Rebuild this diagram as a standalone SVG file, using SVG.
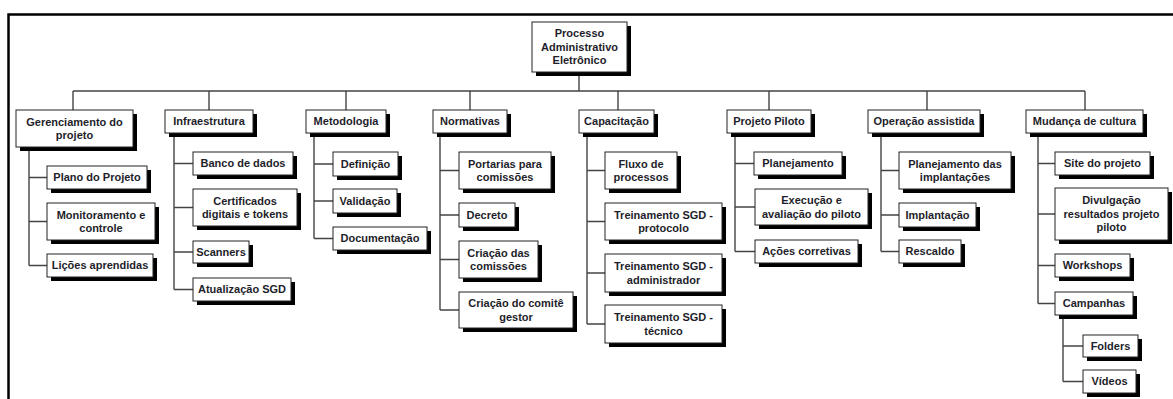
<svg xmlns="http://www.w3.org/2000/svg" width="1173" height="399" viewBox="0 0 1173 399">
<style>
.sh{fill:#000}
.bx{fill:#fff;stroke:#222;stroke-width:1}
.t{font-family:"Liberation Sans",Arial,sans-serif;font-weight:bold;font-size:11px;fill:#1e1e2a;text-anchor:middle}
.c{fill:none;stroke:#444;stroke-width:1.4}
.frame{fill:none;stroke:#000;stroke-width:2.5}
</style>
<rect width="1173" height="399" fill="#fff"/>
<path class="frame" d="M8.5,399 V14.5 H1173"/>
<g id="connectors">
<path class="c" d="M579,72 V91 M73,91 H1085 M73,91 V110 M209,91 V110 M346,91 V110 M470,91 V110 M618,91 V110 M769,91 V110 M927,91 V110 M1085,91 V110"/>
<path class="c" d="M29,147 V265.5 M29,177.5 H47 M29,221.5 H47 M29,265.5 H47"/>
<path class="c" d="M174,133 V289.5 M174,163.5 H193 M174,207.5 H193 M174,252 H193 M174,289.5 H193"/>
<path class="c" d="M314,133 V238.5 M314,164 H333 M314,201 H333 M314,238.5 H333"/>
<path class="c" d="M440,133 V310 M440,170.5 H459 M440,215 H459 M440,259.5 H459 M440,310 H459"/>
<path class="c" d="M587,133 V324 M587,170.5 H605 M587,221.5 H605 M587,273 H605 M587,324 H605"/>
<path class="c" d="M735,133 V251.5 M735,163.5 H754 M735,207 H755 M735,251.5 H755"/>
<path class="c" d="M881,133 V251.5 M881,170.5 H899 M881,215 H899 M881,251.5 H899"/>
<path class="c" d="M1038,133 V303.5 M1038,163.5 H1055 M1038,214 H1055 M1038,265.5 H1055 M1038,303.5 H1055"/>
<path class="c" d="M1063,315 V381.5 M1063,346 H1083 M1063,381.5 H1083"/>
</g>
<g id="root"><rect class="sh" x="536" y="26" width="95" height="50"/><rect class="bx" x="532" y="22" width="95" height="50"/><text class="t" x="579.5" y="37"><tspan x="579.5">Processo</tspan><tspan x="579.5" y="50.5">Administrativo</tspan><tspan x="579.5" y="64">Eletrônico</tspan></text></g>
<g id="gerenciamento"><rect class="sh" x="20" y="114" width="117" height="37"/><rect class="bx" x="16" y="110" width="117" height="37"/><text class="t" x="74.5" y="125.5"><tspan x="74.5">Gerenciamento do</tspan><tspan x="74.5" y="138.9">projeto</tspan></text></g>
<g id="infraestrutura"><rect class="sh" x="169" y="114" width="88" height="23"/><rect class="bx" x="165" y="110" width="88" height="23"/><text class="t" x="209" y="125.3">Infraestrutura</text></g>
<g id="metodologia"><rect class="sh" x="310" y="114" width="80" height="23"/><rect class="bx" x="306" y="110" width="80" height="23"/><text class="t" x="346" y="125.3">Metodologia</text></g>
<g id="normativas"><rect class="sh" x="437" y="114" width="74" height="23"/><rect class="bx" x="433" y="110" width="74" height="23"/><text class="t" x="470" y="125.3">Normativas</text></g>
<g id="capacitacao"><rect class="sh" x="583" y="114" width="75" height="23"/><rect class="bx" x="579" y="110" width="75" height="23"/><text class="t" x="616.5" y="125.3">Capacitação</text></g>
<g id="projeto-piloto"><rect class="sh" x="731" y="114" width="84" height="23"/><rect class="bx" x="727" y="110" width="84" height="23"/><text class="t" x="769" y="125.3">Projeto Piloto</text></g>
<g id="operacao-assistida"><rect class="sh" x="872" y="114" width="112" height="23"/><rect class="bx" x="868" y="110" width="112" height="23"/><text class="t" x="924" y="125.3">Operação assistida</text></g>
<g id="mudanca-cultura"><rect class="sh" x="1030" y="114" width="117" height="23"/><rect class="bx" x="1026" y="110" width="117" height="23"/><text class="t" x="1084.5" y="125.3">Mudança de cultura</text></g>
<g id="plano"><rect class="sh" x="51" y="170" width="100" height="23"/><rect class="bx" x="47" y="166" width="100" height="23"/><text class="t" x="97" y="181.3">Plano do Projeto</text></g>
<g id="monitoramento"><rect class="sh" x="51" y="207" width="108" height="37"/><rect class="bx" x="47" y="203" width="108" height="37"/><text class="t" x="101" y="218.6"><tspan x="101">Monitoramento e</tspan><tspan x="101" y="232">controle</tspan></text></g>
<g id="licoes"><rect class="sh" x="51" y="258" width="106" height="23"/><rect class="bx" x="47" y="254" width="106" height="23"/><text class="t" x="100" y="269.3">Lições aprendidas</text></g>
<g id="banco"><rect class="sh" x="197" y="156" width="100" height="23"/><rect class="bx" x="193" y="152" width="100" height="23"/><text class="t" x="243" y="167.3">Banco de dados</text></g>
<g id="certificados"><rect class="sh" x="197" y="193" width="104" height="37"/><rect class="bx" x="193" y="189" width="104" height="37"/><text class="t" x="245" y="204.6"><tspan x="245">Certificados</tspan><tspan x="245" y="218">digitais e tokens</tspan></text></g>
<g id="scanners"><rect class="sh" x="197" y="245" width="56" height="22"/><rect class="bx" x="193" y="241" width="56" height="22"/><text class="t" x="221" y="255.8">Scanners</text></g>
<g id="atualizacao"><rect class="sh" x="197" y="282" width="98" height="23"/><rect class="bx" x="193" y="278" width="98" height="23"/><text class="t" x="242" y="293.3">Atualização SGD</text></g>
<g id="definicao"><rect class="sh" x="337" y="156" width="65" height="24"/><rect class="bx" x="333" y="152" width="65" height="24"/><text class="t" x="365.5" y="167.8">Definição</text></g>
<g id="validacao"><rect class="sh" x="337" y="193" width="64" height="24"/><rect class="bx" x="333" y="189" width="64" height="24"/><text class="t" x="365" y="204.8">Validação</text></g>
<g id="documentacao"><rect class="sh" x="337" y="231" width="94" height="23"/><rect class="bx" x="333" y="227" width="94" height="23"/><text class="t" x="380" y="242.3">Documentação</text></g>
<g id="portarias"><rect class="sh" x="463" y="156" width="92" height="37"/><rect class="bx" x="459" y="152" width="92" height="37"/><text class="t" x="505" y="167.6"><tspan x="505">Portarias para</tspan><tspan x="505" y="181">comissões</tspan></text></g>
<g id="decreto"><rect class="sh" x="463" y="207" width="56" height="24"/><rect class="bx" x="459" y="203" width="56" height="24"/><text class="t" x="487" y="218.8">Decreto</text></g>
<g id="criacao-comissoes"><rect class="sh" x="463" y="245" width="79" height="37"/><rect class="bx" x="459" y="241" width="79" height="37"/><text class="t" x="498.5" y="256.6"><tspan x="498.5">Criação das</tspan><tspan x="498.5" y="270">comissões</tspan></text></g>
<g id="criacao-comite"><rect class="sh" x="463" y="296" width="114" height="36"/><rect class="bx" x="459" y="292" width="114" height="36"/><text class="t" x="516" y="307.1"><tspan x="516">Criação do comitê</tspan><tspan x="516" y="320.5">gestor</tspan></text></g>
<g id="fluxo"><rect class="sh" x="609" y="156" width="72" height="37"/><rect class="bx" x="605" y="152" width="72" height="37"/><text class="t" x="641" y="167.6"><tspan x="641">Fluxo de</tspan><tspan x="641" y="181">processos</tspan></text></g>
<g id="treinamento-protocolo"><rect class="sh" x="609" y="207" width="117" height="37"/><rect class="bx" x="605" y="203" width="117" height="37"/><text class="t" x="663.5" y="218.6"><tspan x="663.5">Treinamento SGD -</tspan><tspan x="663.5" y="232">protocolo</tspan></text></g>
<g id="treinamento-administrador"><rect class="sh" x="609" y="258" width="117" height="38"/><rect class="bx" x="605" y="254" width="117" height="38"/><text class="t" x="663.5" y="270.1"><tspan x="663.5">Treinamento SGD -</tspan><tspan x="663.5" y="283.5">administrador</tspan></text></g>
<g id="treinamento-tecnico"><rect class="sh" x="609" y="309" width="117" height="38"/><rect class="bx" x="605" y="305" width="117" height="38"/><text class="t" x="663.5" y="321.1"><tspan x="663.5">Treinamento SGD -</tspan><tspan x="663.5" y="334.5">técnico</tspan></text></g>
<g id="planejamento"><rect class="sh" x="758" y="156" width="88" height="23"/><rect class="bx" x="754" y="152" width="88" height="23"/><text class="t" x="798" y="167.3">Planejamento</text></g>
<g id="execucao"><rect class="sh" x="759" y="193" width="113" height="36"/><rect class="bx" x="755" y="189" width="113" height="36"/><text class="t" x="811.5" y="204.1"><tspan x="811.5">Execução e</tspan><tspan x="811.5" y="217.5">avaliação do piloto</tspan></text></g>
<g id="acoes"><rect class="sh" x="759" y="244" width="103" height="23"/><rect class="bx" x="755" y="240" width="103" height="23"/><text class="t" x="806.5" y="255.3">Ações corretivas</text></g>
<g id="planejamento-implantacoes"><rect class="sh" x="903" y="156" width="112" height="37"/><rect class="bx" x="899" y="152" width="112" height="37"/><text class="t" x="955" y="167.6"><tspan x="955">Planejamento das</tspan><tspan x="955" y="181">implantações</tspan></text></g>
<g id="implantacao"><rect class="sh" x="903" y="207" width="77" height="24"/><rect class="bx" x="899" y="203" width="77" height="24"/><text class="t" x="937.5" y="218.8">Implantação</text></g>
<g id="rescaldo"><rect class="sh" x="903" y="244" width="62" height="23"/><rect class="bx" x="899" y="240" width="62" height="23"/><text class="t" x="930" y="255.3">Rescaldo</text></g>
<g id="site"><rect class="sh" x="1059" y="156" width="95" height="23"/><rect class="bx" x="1055" y="152" width="95" height="23"/><text class="t" x="1102.5" y="167.3">Site do projeto</text></g>
<g id="divulgacao"><rect class="sh" x="1059" y="192" width="113" height="52"/><rect class="bx" x="1055" y="188" width="113" height="52"/><text class="t" x="1111.5" y="204.4"><tspan x="1111.5">Divulgação</tspan><tspan x="1111.5" y="217.8">resultados projeto</tspan><tspan x="1111.5" y="231.2">piloto</tspan></text></g>
<g id="workshops"><rect class="sh" x="1059" y="258" width="75" height="23"/><rect class="bx" x="1055" y="254" width="75" height="23"/><text class="t" x="1092.5" y="269.3">Workshops</text></g>
<g id="campanhas"><rect class="sh" x="1059" y="296" width="78" height="23"/><rect class="bx" x="1055" y="292" width="78" height="23"/><text class="t" x="1094" y="307.3">Campanhas</text></g>
<g id="folders"><rect class="sh" x="1087" y="339" width="55" height="22"/><rect class="bx" x="1083" y="335" width="55" height="22"/><text class="t" x="1110.5" y="349.8">Folders</text></g>
<g id="videos"><rect class="sh" x="1087" y="374" width="53" height="23"/><rect class="bx" x="1083" y="370" width="53" height="23"/><text class="t" x="1109.5" y="385.3">Vídeos</text></g>
</svg>
